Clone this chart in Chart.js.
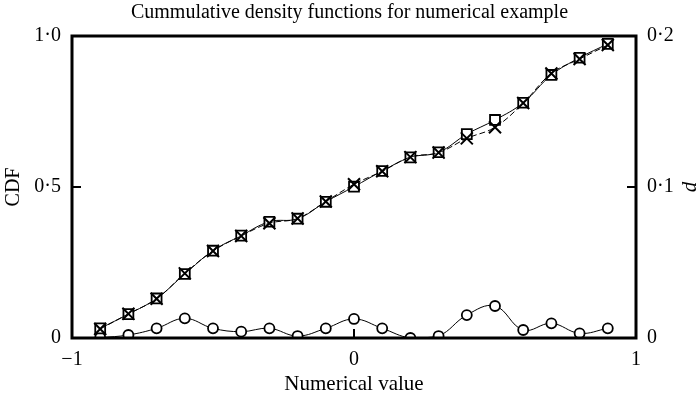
<!DOCTYPE html>
<html lang="en">
<head>
<meta charset="UTF-8">
<title>Cummulative density functions</title>
<script src="https://cdn.jsdelivr.net/npm/chart.js"></script>
<style>
    html, body { margin: 0; padding: 0; background: #fff; }
    #wrap { width: 699px; height: 398px; position: relative; }
</style>
</head>
<body>
<div id="wrap"><canvas id="grafico"></canvas></div>
<script>
    // data
    const xVals = [-0.9, -0.8, -0.7, -0.6, -0.5, -0.4, -0.3, -0.2, -0.1, 0, 0.1, 0.2, 0.3, 0.4, 0.5, 0.6, 0.7, 0.8, 0.9];
    const cdfSquare = [0.032, 0.079, 0.131, 0.212, 0.289, 0.339, 0.385, 0.395, 0.451, 0.501, 0.553, 0.598, 0.615, 0.675, 0.722, 0.779, 0.871, 0.928, 0.974];
    const cdfCross = [0.030, 0.080, 0.130, 0.214, 0.288, 0.338, 0.380, 0.396, 0.452, 0.509, 0.552, 0.599, 0.614, 0.661, 0.698, 0.778, 0.876, 0.924, 0.970];
    const dVals = [0.0002, 0.002, 0.0064, 0.013, 0.0064, 0.0042, 0.0064, 0.0013, 0.0064, 0.0126, 0.0064, 0.0, 0.0013, 0.0152, 0.0212, 0.0053, 0.0097, 0.0031, 0.0064];

    const xTicks = [-1, 0, 1];
    const xTickLabels = ['\u22121', '0', '1'];
    const yTicks = [0, 0.5, 1];
    const yTickLabels = ['0', '0\u00b75', '1\u00b70'];
    const y2Ticks = [0, 0.1, 0.2];
    const y2TickLabels = ['0', '0\u00b71', '0\u00b72'];

    const serif = '"Liberation Serif", "DejaVu Serif", serif';

    function pts(ys) {
        return xVals.map((x, i) => ({ x: x, y: ys[i] }));
    }
    function labelFor(ticks, labels) {
        return v => {
            const i = ticks.findIndex(t => Math.abs(t - v) < 1e-9);
            return i >= 0 ? labels[i] : '';
        };
    }

    // frame, inner tick marks and the right axis title (reads bottom to top)
    const frame = {
        id: 'frame',
        afterDraw(chart) {
            const { ctx, chartArea: a, scales } = chart;
            ctx.save();
            ctx.strokeStyle = '#000';
            ctx.lineWidth = 3;
            ctx.strokeRect(a.left, a.top, a.right - a.left, a.bottom - a.top);
            ctx.lineWidth = 2;
            ctx.beginPath();
            const x0 = scales.x.getPixelForValue(0);
            ctx.moveTo(x0, a.bottom); ctx.lineTo(x0, a.bottom - 9);
            const yh = scales.y.getPixelForValue(0.5);
            ctx.moveTo(a.left, yh); ctx.lineTo(a.left + 9, yh);
            const y2h = scales.y2.getPixelForValue(0.1);
            ctx.moveTo(a.right, y2h); ctx.lineTo(a.right - 9, y2h);
            ctx.stroke();

            ctx.translate(690, (a.top + a.bottom) / 2);
            ctx.rotate(-Math.PI / 2);
            ctx.font = 'italic 21px ' + serif;
            ctx.fillStyle = '#000';
            ctx.textAlign = 'center';
            ctx.textBaseline = 'middle';
            ctx.fillText('d', 0, 0);
            ctx.restore();
        }
    };

    Chart.defaults.font.family = serif;
    Chart.defaults.color = '#000';

    new Chart(document.getElementById('grafico'), {
        type: 'line',
        data: {
            datasets: [
                {
                    data: pts(cdfCross), yAxisID: 'y',
                    borderColor: '#000', borderWidth: 1, borderDash: [6, 3], tension: 0.4,
                    pointStyle: 'crossRot', pointRadius: 8.5, pointBorderWidth: 2,
                    pointBorderColor: '#000'
                },
                {
                    data: pts(cdfSquare), yAxisID: 'y',
                    borderColor: '#000', borderWidth: 1, tension: 0.4,
                    pointStyle: 'rect', pointRadius: 7, pointBorderWidth: 1.8,
                    pointBackgroundColor: '#fff', pointBorderColor: '#000'
                },
                {
                    data: pts(dVals), yAxisID: 'y2',
                    borderColor: '#000', borderWidth: 1, tension: 0.4,
                    pointStyle: 'circle', pointRadius: 5, pointBorderWidth: 1.8,
                    pointBackgroundColor: '#fff', pointBorderColor: '#000'
                }
            ]
        },
        options: {
            responsive: true,
            maintainAspectRatio: false,
            animation: false,
            layout: { padding: 0 },
            plugins: {
                legend: { display: false },
                tooltip: { enabled: false },
                title: {
                    display: true,
                    text: 'Cummulative density functions for numerical example',
                    font: { size: 20, weight: 'normal', family: serif },
                    color: '#000',
                    padding: { top: 1, bottom: 11 }
                }
            },
            scales: {
                x: {
                    type: 'linear', min: -1, max: 1,
                    afterBuildTicks: s => { s.ticks = xTicks.map(v => ({ value: v })); },
                    ticks: { callback: labelFor(xTicks, xTickLabels), font: { size: 20 }, padding: 2, maxRotation: 0 },
                    grid: { display: false },
                    border: { display: false },
                    title: { display: true, text: 'Numerical value', font: { size: 21 }, padding: { top: 0, bottom: 1 } },
                    afterFit: s => { s.height = 60; }
                },
                y: {
                    position: 'left', min: 0, max: 1,
                    afterBuildTicks: s => { s.ticks = yTicks.map(v => ({ value: v })); },
                    ticks: { callback: labelFor(yTicks, yTickLabels), font: { size: 20 }, padding: 3 },
                    grid: { display: false },
                    border: { display: false },
                    title: { display: true, text: 'CDF', font: { size: 20 }, padding: { top: 2, bottom: 0 } },
                    afterFit: s => { s.width = 72; }
                },
                y2: {
                    position: 'right', min: 0, max: 0.2,
                    afterBuildTicks: s => { s.ticks = y2Ticks.map(v => ({ value: v })); },
                    ticks: { callback: labelFor(y2Ticks, y2TickLabels), font: { size: 20 }, padding: 3 },
                    grid: { display: false },
                    border: { display: false },
                    afterFit: s => { s.width = 63; }
                }
            }
        },
        plugins: [frame]
    });
</script>
</body>
</html>
